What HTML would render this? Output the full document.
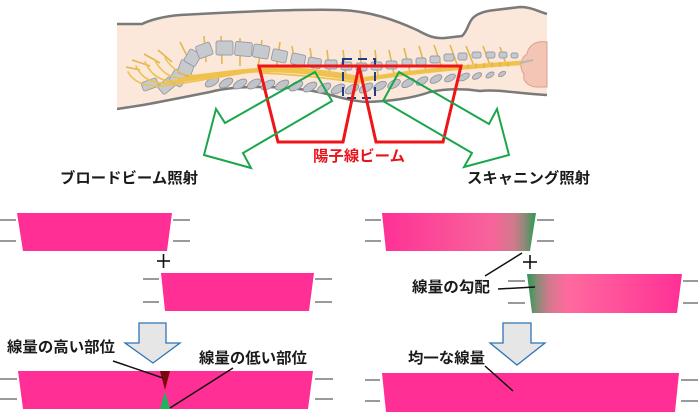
<!DOCTYPE html>
<html>
<head>
<meta charset="utf-8">
<style>
  html,body{margin:0;padding:0;background:#fff;}
  svg{display:block;}
  text{font-family:"Liberation Sans","Noto Sans CJK JP",sans-serif;font-weight:bold;font-size:15px;}
</style>
</head>
<body>
<svg width="700" height="420" viewBox="0 0 700 420" xmlns="http://www.w3.org/2000/svg">
  <defs>
    <linearGradient id="g1" x1="382" y1="0" x2="536" y2="0" gradientUnits="userSpaceOnUse">
      <stop offset="0" stop-color="#ff3096"/>
      <stop offset="0.72" stop-color="#f7649a"/>
      <stop offset="0.86" stop-color="#d07a8c"/>
      <stop offset="0.93" stop-color="#8a8a78"/>
      <stop offset="1" stop-color="#2a9a52"/>
    </linearGradient>
    <linearGradient id="g2" x1="527" y1="0" x2="682" y2="0" gradientUnits="userSpaceOnUse">
      <stop offset="0" stop-color="#2a9a52"/>
      <stop offset="0.07" stop-color="#8a8a78"/>
      <stop offset="0.14" stop-color="#d07a8c"/>
      <stop offset="0.26" stop-color="#ff6a9e"/>
      <stop offset="1" stop-color="#ff3096"/>
    </linearGradient>
  </defs>

  <!-- ===== Body illustration ===== -->
  <path d="M117,24 L142,24 C150,20 165,16 180,15 C230,12 300,9 340,10 C370,11 395,20 417,30 C428,36 435,39 445,38 L462,36 C467,32 468,24 472,19 C476,14 485,11 495,10 L520,7 C530,7 535,10 547,14 L547,95 C520,94 500,89 480,91 C460,88 445,89 430,92 C410,99 390,101 367,102 C350,101 335,96 323,93 C300,88 280,87 257,87 C240,87 225,88 210,92 C190,96 160,102 143,105 L117,109 Z" fill="#fbe8db"/>
  <path d="M117,24 L142,24 C150,20 165,16 180,15 C230,12 300,9 340,10 C370,11 395,20 417,30 C428,36 435,39 445,38 L462,36 C467,32 468,24 472,19 C476,14 485,11 495,10 L520,7 C530,7 535,10 547,14" fill="none" stroke="#7a7a7a" stroke-width="2.5"/>
  <path d="M117,109 L143,105 C160,102 190,96 210,92 C225,88 240,87 257,87 C280,87 300,88 323,93 C335,96 350,101 367,102 C390,101 410,99 430,92 C445,89 460,88 480,91 C500,89 520,94 547,95" fill="none" stroke="#7a7a7a" stroke-width="2.5"/>
  <!-- brain -->
  <path d="M547,42 C536,40 528,46 527,54 C520,58 519,68 524,74 C522,82 530,88 540,87 L547,87 Z" fill="#f4c4b4" stroke="#d9a090" stroke-width="1"/>

  <!-- nerve roots -->
  <g stroke="#e3b650" stroke-width="1.6" fill="none">
    <line x1="190" y1="62" x2="180" y2="42"/>
    <line x1="206" y1="62" x2="204" y2="36"/>
    <line x1="222" y1="64" x2="221" y2="36"/>
    <line x1="240" y1="66" x2="240" y2="38"/>
    <line x1="258" y1="68" x2="262" y2="40"/>
    <line x1="276" y1="70" x2="280" y2="42"/>
    <line x1="296" y1="72" x2="292" y2="46"/>
    <line x1="314" y1="74" x2="310" y2="48"/>
    <line x1="330" y1="76" x2="327" y2="50"/>
    <line x1="346" y1="77" x2="343" y2="50"/>
    <line x1="362" y1="77" x2="360" y2="50"/>
    <line x1="378" y1="76" x2="375" y2="50"/>
    <line x1="394" y1="74" x2="389" y2="50"/>
    <line x1="410" y1="72" x2="404" y2="48"/>
    <line x1="426" y1="70" x2="419" y2="46"/>
    <line x1="442" y1="68" x2="434" y2="45"/>
    <line x1="458" y1="67" x2="450" y2="45"/>
    <line x1="474" y1="66" x2="466" y2="46"/>
    <line x1="490" y1="65" x2="483" y2="46"/>
    <line x1="506" y1="64" x2="500" y2="47"/>
    <line x1="140" y1="70" x2="126" y2="67"/>
    <line x1="150" y1="66" x2="132" y2="60"/>
    <line x1="160" y1="63" x2="144" y2="54"/>
    <line x1="172" y1="62" x2="158" y2="50"/>
  </g>

  <!-- posterior vertebrae -->
  <g fill="#c6c9ce" stroke="#989ca3" stroke-width="0.9">
    <rect x="142" y="80" width="16" height="9" rx="2" transform="rotate(-20 150 85)"/>
    <rect x="159" y="80" width="16" height="11" rx="2" transform="rotate(-40 167 86)"/>
    <rect x="171" y="71" width="14" height="14" rx="2" transform="rotate(-60 178 78)"/>
    <rect x="179" y="61" width="14" height="14" rx="2" transform="rotate(-70 186 68)"/>
    <rect x="186" y="51" width="14" height="13" rx="2" transform="rotate(-60 193 58)"/>
    <rect x="197" y="44" width="15" height="13" rx="2" transform="rotate(-20 204 51)"/>
    <rect x="216" y="41" width="17" height="14" rx="2"/>
    <rect x="235" y="42" width="17" height="14" rx="2" transform="rotate(5 243 49)"/>
    <rect x="253" y="45" width="16" height="13" rx="2" transform="rotate(10 261 52)"/>
    <rect x="272" y="50" width="15" height="12" rx="2" transform="rotate(12 280 56)"/>
    <rect x="291" y="54" width="14" height="11" rx="2" transform="rotate(12 298 60)"/>
    <rect x="308" y="58" width="13" height="10" rx="2" transform="rotate(10 315 63)"/>
    <rect x="325" y="60" width="12" height="9" rx="2"/>
    <rect x="341" y="62" width="11" height="8" rx="2"/>
    <rect x="356" y="63" width="11" height="8" rx="2"/>
    <rect x="371" y="62" width="11" height="8" rx="2"/>
    <rect x="386" y="61" width="11" height="8" rx="2"/>
    <rect x="402" y="59" width="10" height="8" rx="2"/>
    <rect x="416" y="58" width="10" height="7" rx="2"/>
    <rect x="430" y="56" width="10" height="7" rx="2"/>
    <rect x="444" y="54" width="10" height="7" rx="2"/>
    <rect x="458" y="53" width="9" height="7" rx="2"/>
    <rect x="472" y="52" width="9" height="6" rx="2"/>
    <rect x="486" y="52" width="9" height="6" rx="2"/>
    <rect x="499" y="52" width="8" height="6" rx="2"/>
    <rect x="511" y="53" width="7" height="5" rx="2"/>
  </g>

  <!-- anterior vertebrae -->
  <g fill="#c0c4ca" stroke="#92969d" stroke-width="0.9">
    <ellipse cx="212" cy="82" rx="7.5" ry="3.8" transform="rotate(-30 212 82)"/>
    <ellipse cx="226" cy="83" rx="7.5" ry="3.8" transform="rotate(-30 226 83)"/>
    <ellipse cx="240" cy="84" rx="7.5" ry="3.8" transform="rotate(-30 240 84)"/>
    <ellipse cx="254" cy="84" rx="7.5" ry="3.8" transform="rotate(-30 254 84)"/>
    <ellipse cx="268" cy="85" rx="7.5" ry="3.8" transform="rotate(-30 268 85)"/>
    <ellipse cx="282" cy="85" rx="7.5" ry="3.8" transform="rotate(-30 282 85)"/>
    <ellipse cx="296" cy="86" rx="7.5" ry="3.8" transform="rotate(-30 296 86)"/>
    <ellipse cx="310" cy="87" rx="7.5" ry="3.8" transform="rotate(-30 310 87)"/>
    <ellipse cx="324" cy="88" rx="7.5" ry="3.8" transform="rotate(-30 324 88)"/>
    <ellipse cx="338" cy="89" rx="7.5" ry="3.8" transform="rotate(-30 338 89)"/>
    <ellipse cx="352" cy="89" rx="7.5" ry="3.8" transform="rotate(-30 352 89)"/>
    <ellipse cx="366" cy="88" rx="7.5" ry="3.8" transform="rotate(-30 366 88)"/>
    <ellipse cx="380" cy="86" rx="7" ry="3.6" transform="rotate(-30 380 86)"/>
    <ellipse cx="394" cy="84" rx="7" ry="3.6" transform="rotate(-30 394 84)"/>
    <ellipse cx="408" cy="83" rx="7" ry="3.5" transform="rotate(-30 408 83)"/>
    <ellipse cx="422" cy="81" rx="6.5" ry="3.3" transform="rotate(-30 422 81)"/>
    <ellipse cx="436" cy="79" rx="6.5" ry="3.3" transform="rotate(-30 436 79)"/>
    <ellipse cx="450" cy="78" rx="6" ry="3" transform="rotate(-30 450 78)"/>
    <ellipse cx="464" cy="77" rx="6" ry="3" transform="rotate(-30 464 77)"/>
    <ellipse cx="477" cy="76" rx="5" ry="2.6" transform="rotate(-30 477 76)"/>
    <ellipse cx="490" cy="75" rx="4.5" ry="2.3" transform="rotate(-30 490 75)"/>
    <ellipse cx="502" cy="74" rx="4" ry="2" transform="rotate(-30 502 74)"/>
  </g>

  <!-- spinal cord / cauda equina -->
  <g fill="none" stroke="#efc24e" stroke-linecap="round">
    <path d="M128,72 Q138,90 172,85 Q215,78 262,70" stroke-width="1.6"/>
    <path d="M136,66 Q146,88 178,82 Q218,76 262,70" stroke-width="1.6"/>
    <path d="M145,62 Q156,86 184,80 Q222,74 262,70" stroke-width="1.6"/>
    <path d="M154,59 Q166,82 190,78 Q226,72 262,70" stroke-width="1.6"/>
    <path d="M165,58 Q178,78 198,75 Q230,71 262,70" stroke-width="1.6"/>
    <path d="M180,80 Q225,72 262,70 Q310,70 360,80 Q420,70 520,63" stroke-width="4.5"/>
    <path d="M262,73 Q310,75 360,83" stroke-width="1.8"/>
    <path d="M262,67 Q310,67 360,77" stroke-width="1.8"/>
  </g>
  <g stroke="#d9a830" stroke-width="0.8">
    <line x1="468" y1="64" x2="468" y2="69"/>
    <line x1="476" y1="63" x2="476" y2="68"/>
    <line x1="484" y1="63" x2="484" y2="68"/>
    <line x1="492" y1="62" x2="492" y2="67"/>
    <line x1="500" y1="62" x2="500" y2="67"/>
    <line x1="508" y1="62" x2="508" y2="67"/>
  </g>
  <line x1="520" y1="63" x2="533" y2="60" stroke="#b8b8b0" stroke-width="2"/>

  <!-- blue dashed box -->
  <rect x="343" y="59" width="32" height="39" fill="none" stroke="#1f3c88" stroke-width="2" stroke-dasharray="9 6"/>

  <!-- red beams -->
  <polygon points="259,66 359,66 343,142 278,142" fill="none" stroke="#ee1418" stroke-width="3" stroke-linejoin="miter"/>
  <polygon points="359,66 461,66 443,142 376,142" fill="none" stroke="#ee1418" stroke-width="3" stroke-linejoin="miter"/>

  <!-- green arrows -->
  <polygon points="315,72 332,101 243,153 251,168 204,155 216,109 225,123" fill="none" stroke="#1aa64a" stroke-width="2"/>
  <polygon points="399,72 383,101 472,153 464,167 509,155 497,109 489,124" fill="none" stroke="#1aa64a" stroke-width="2"/>

  <text x="313" y="161" fill="#e8141c" textLength="92" lengthAdjust="spacingAndGlyphs">陽子線ビーム</text>

  <!-- headings -->
  <text x="60" y="183" fill="#1a1a1a" textLength="138" lengthAdjust="spacingAndGlyphs">ブロードビーム照射</text>
  <text x="467" y="183" fill="#1a1a1a" textLength="123" lengthAdjust="spacingAndGlyphs">スキャニング照射</text>

  <!-- gray side lines -->
  <g stroke="#9a9a9a" stroke-width="2">
    <line x1="0" y1="220" x2="16" y2="220"/><line x1="0" y1="241" x2="16" y2="241"/>
    <line x1="173" y1="220" x2="190" y2="220"/><line x1="173" y1="241" x2="190" y2="241"/>
    <line x1="143" y1="279" x2="159" y2="279"/><line x1="143" y1="302" x2="159" y2="302"/>
    <line x1="315" y1="279" x2="332" y2="279"/><line x1="315" y1="302" x2="332" y2="302"/>
    <line x1="0" y1="379" x2="17" y2="379"/><line x1="0" y1="399" x2="17" y2="399"/>
    <line x1="315" y1="379" x2="333" y2="379"/><line x1="315" y1="399" x2="333" y2="399"/>

    <line x1="365" y1="220" x2="381" y2="220"/><line x1="365" y1="241" x2="381" y2="241"/>
    <line x1="537" y1="220" x2="554" y2="220"/><line x1="537" y1="241" x2="554" y2="241"/>
    <line x1="508" y1="281" x2="525" y2="281"/><line x1="508" y1="303" x2="525" y2="303"/>
    <line x1="683" y1="281" x2="698" y2="281"/><line x1="683" y1="303" x2="698" y2="303"/>
    <line x1="365" y1="380" x2="380" y2="380"/><line x1="365" y1="401" x2="380" y2="401"/>
    <line x1="681" y1="380" x2="698" y2="380"/><line x1="681" y1="401" x2="698" y2="401"/>
  </g>

  <!-- left pink trapezoids -->
  <polygon points="17,213 172,213 167,251 23,251" fill="#ff2f95"/>
  <polygon points="161,273 314,273 309,311 165,311" fill="#ff2f95"/>
  <polygon points="18,371 313,371 308,409 23,409" fill="#ff2f95"/>
  <polygon points="160,371 170,371 165,390" fill="#7a0a0a"/>
  <polygon points="165,392 170,409 160,409" fill="#1db55a"/>

  <!-- right trapezoids -->
  <polygon points="382,213 536,213 530,251 386,251" fill="url(#g1)"/>
  <polygon points="527,274 682,274 677,313 532,313" fill="url(#g2)"/>
  <polygon points="382,373 679,373 675,412 386,412" fill="#ff2f95"/>

  <!-- plus signs -->
  <g stroke="#111" stroke-width="1.6">
    <line x1="157" y1="261" x2="170" y2="261"/><line x1="163.5" y1="254" x2="163.5" y2="268"/>
    <line x1="523" y1="262" x2="537" y2="262"/><line x1="530" y1="255" x2="530" y2="269"/>
  </g>

  <!-- blue down arrows -->
  <polygon points="139,323 166,323 166,343 180,343 153,363 125,343 139,343" fill="#e6e6e6" stroke="#2e75b6" stroke-width="1.3"/>
  <polygon points="503,323 531,323 531,343 545,343 517,365 490,343 503,343" fill="#e6e6e6" stroke="#2e75b6" stroke-width="1.3"/>

  <!-- labels and leaders -->
  <text x="7" y="352" fill="#1a1a1a" textLength="108" lengthAdjust="spacingAndGlyphs">線量の高い部位</text>
  <text x="199" y="363" fill="#1a1a1a" textLength="108" lengthAdjust="spacingAndGlyphs">線量の低い部位</text>
  <text x="412" y="292" fill="#1a1a1a" textLength="78" lengthAdjust="spacingAndGlyphs">線量の勾配</text>
  <text x="408" y="363" fill="#1a1a1a" textLength="77" lengthAdjust="spacingAndGlyphs">均一な線量</text>
  <g stroke="#111" stroke-width="1.5">
    <line x1="113" y1="361" x2="163" y2="378"/>
    <line x1="233" y1="368" x2="170" y2="408"/>
    <line x1="485" y1="276" x2="522" y2="253"/>
    <line x1="498" y1="289" x2="535" y2="287"/>
    <line x1="485" y1="366" x2="513" y2="391"/>
  </g>
</svg>
</body>
</html>
